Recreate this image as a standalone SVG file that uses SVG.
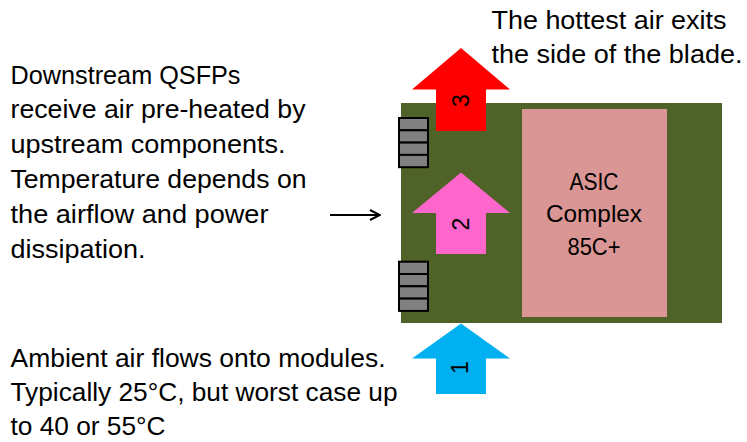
<svg xmlns="http://www.w3.org/2000/svg" width="747" height="442" viewBox="0 0 747 442">
  <defs>
    <style>
      .t { font-family: "Liberation Sans", Arial, sans-serif; font-size: 26px; fill: #000; }
      .asic { font-family: "Liberation Sans", Arial, sans-serif; font-size: 24px; fill: #000; text-anchor: middle; }
      .num { font-family: "Liberation Sans", Arial, sans-serif; font-size: 23px; fill: #000; text-anchor: middle; }
      .cell { fill: #808080; stroke: #000; stroke-width: 2; }
      .conn { stroke: #000; stroke-width: 2; fill: none; }
    </style>
    <marker id="open" viewBox="0 0 12 12" refX="11" refY="6" markerWidth="12" markerHeight="12" markerUnits="userSpaceOnUse" orient="auto">
      <path d="M1,1 L11,6 L1,11" fill="none" stroke="#000" stroke-width="2"/>
    </marker>
  </defs>
  <rect width="747" height="442" fill="#fff"/>

  <g id="board">
    <rect x="401" y="103" width="321" height="220" fill="#4F6228"/>
  </g>

  <g id="asic">
    <rect x="522" y="109" width="145" height="208" fill="#DA9694"/>
    <text class="asic" x="594" y="189.5" textLength="49" lengthAdjust="spacingAndGlyphs">ASIC</text>
    <text class="asic" x="594" y="222" textLength="96" lengthAdjust="spacingAndGlyphs">Complex</text>
    <text class="asic" x="594" y="254.5" textLength="53" lengthAdjust="spacingAndGlyphs">85C+</text>
  </g>

  <g id="qsfp-top">
    <rect class="cell" x="399" y="118" width="29" height="12.3"/>
    <rect class="cell" x="399" y="130.3" width="29" height="12.3"/>
    <rect class="cell" x="399" y="142.6" width="29" height="12.3"/>
    <rect class="cell" x="399" y="154.9" width="29" height="12.3"/>
  </g>

  <g id="qsfp-bottom">
    <rect class="cell" x="399" y="261.7" width="29" height="12.3"/>
    <rect class="cell" x="399" y="274" width="29" height="12.3"/>
    <rect class="cell" x="399" y="286.3" width="29" height="12.3"/>
    <rect class="cell" x="399" y="298.6" width="29" height="12.3"/>
  </g>

  <g id="arrow3">
    <polygon points="461,48 510,89.5 486,89.5 486,131 436,131 436,89.5 412,89.5" fill="#FF0000"/>
    <text class="num" transform="translate(461,100.5) rotate(-90)" y="8.2">3</text>
  </g>

  <g id="arrow2">
    <polygon points="461,172.5 510,213 486,213 486,254 436,254 436,213 412,213" fill="#FF66CC"/>
    <text class="num" transform="translate(461,224) rotate(-90)" y="8.2">2</text>
  </g>

  <g id="arrow1">
    <polygon points="461,323.5 510,358.5 486,358.5 486,394 436,394 436,358.5 412,358.5" fill="#00B0F0"/>
    <text class="num" transform="translate(460,367.5) rotate(-90)" y="8.2">1</text>
  </g>

  <g id="note-downstream">
    <text class="t" x="10.5" y="83.5" textLength="230" lengthAdjust="spacingAndGlyphs">Downstream QSFPs</text>
    <text class="t" x="10.5" y="118.3" textLength="295" lengthAdjust="spacingAndGlyphs">receive air pre-heated by</text>
    <text class="t" x="10.5" y="153" textLength="275" lengthAdjust="spacingAndGlyphs">upstream components.</text>
    <text class="t" x="10.5" y="188" textLength="296" lengthAdjust="spacingAndGlyphs">Temperature depends on</text>
    <text class="t" x="10.5" y="222.7" textLength="258" lengthAdjust="spacingAndGlyphs">the airflow and power</text>
    <text class="t" x="10.5" y="257.5" textLength="135" lengthAdjust="spacingAndGlyphs">dissipation.</text>
  </g>

  <g id="note-ambient">
    <text class="t" x="10.5" y="366.5" textLength="375" lengthAdjust="spacingAndGlyphs">Ambient air flows onto modules.</text>
    <text class="t" x="10.5" y="400.5" textLength="387" lengthAdjust="spacingAndGlyphs">Typically 25°C, but worst case up</text>
    <text class="t" x="10.5" y="434.5" textLength="155" lengthAdjust="spacingAndGlyphs">to 40 or 55°C</text>
  </g>

  <g id="note-hottest">
    <text class="t" x="491.5" y="28.5" textLength="235" lengthAdjust="spacingAndGlyphs">The hottest air exits</text>
    <text class="t" x="491.5" y="63.3" textLength="251" lengthAdjust="spacingAndGlyphs">the side of the blade.</text>
  </g>

  <g id="connectors">
    <line class="conn" x1="330" y1="215" x2="380" y2="215" marker-end="url(#open)"/>
  </g>
</svg>
